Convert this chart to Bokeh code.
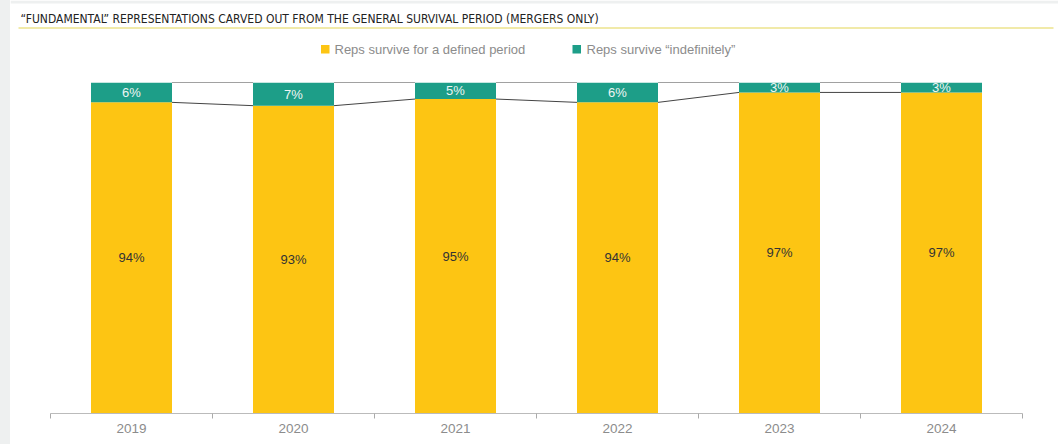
from bokeh.plotting import figure
from bokeh.models import Range1d, FixedTicker, Spacer, ColumnDataSource
from bokeh.layouts import row, column
from bokeh.core.properties import value
from bokeh.embed import file_html
from bokeh.resources import INLINE

years = ["2019", "2020", "2021", "2022", "2023", "2024"]
defined = [94, 93, 95, 94, 97, 97]
indefinite = [6, 7, 5, 6, 3, 3]
series_names = ["Reps survive for a defined period", "Reps survive \u201cindefinitely\u201d"]
title_text = "\u201cFUNDAMENTAL\u201d REPRESENTATIONS CARVED OUT FROM THE GENERAL SURVIVAL PERIOD (MERGERS ONLY)"

YEL = "#FDC513"
TEAL = "#1D9E88"
GREY_TXT = "#8c8c8c"
COND = "DejaVu Sans Condensed"

W = 1048

# ---------- header ----------
h = figure(width=W, height=78, x_range=Range1d(0, W), y_range=Range1d(78, 0),
           x_axis_location=None, y_axis_location=None,
           output_backend="svg", toolbar_location=None, min_border=0)
h.frame_align = False
h.grid.visible = False
h.outline_line_color = None
h.background_fill_color = "white"
h.border_fill_color = "white"
h.quad(left=[0], right=[W], top=[0], bottom=[3], fill_color="#eef0f0", line_color=None)
h.text(x=[10], y=[18], text=[title_text], text_font=value(COND), text_font_size="12px",
       text_color="#222222", text_baseline="middle", text_align="left")
h.segment(x0=[8], y0=[27.5], x1=[1043], y1=[27.5], line_color="#EDE38C", line_width=1.5)
h.quad(left=[310.5, 562], right=[319, 570.5], top=[44.5, 44.5], bottom=[53, 53],
       fill_color=[YEL, TEAL], line_color=None)
h.text(x=[324, 576], y=[49, 49], text=series_names, text_font=value("Liberation Sans"),
       text_font_size="13px", text_color=GREY_TXT, text_baseline="middle", text_align="left")

# ---------- main chart ----------
n = len(years)
xc = [i + 0.5 for i in range(n)]
d_frac = [v / 100 for v in defined]
tot_frac = [(a + b) / 100 for a, b in zip(defined, indefinite)]

src = ColumnDataSource(dict(x=xc, d=d_frac, t=tot_frac,
                            dlab=[f"{v}%" for v in defined],
                            ilab=[f"{v}%" for v in indefinite],
                            dmid=[v / 2 for v in d_frac],
                            imid=[(a + b) / 2 for a, b in zip(d_frac, tot_frac)]))

p = figure(width=W, height=366, x_range=Range1d(0, n), y_range=Range1d(0, 1),
           y_axis_location=None,
           output_backend="svg", toolbar_location=None,
           min_border_left=40, min_border_right=36, min_border_top=4, min_border_bottom=31)
p.frame_align = False
p.grid.visible = False
p.outline_line_color = None
p.background_fill_color = "white"
p.border_fill_color = "white"

p.vbar(x="x", width=0.5, bottom=0, top="d", source=src, fill_color=YEL, line_color=None)
p.vbar(x="x", width=0.5, bottom="d", top="t", source=src, fill_color=TEAL, line_color=None)

# series lines between adjacent bars
sx0 = [i + 0.75 for i in range(n - 1)]
sx1 = [i + 1.25 for i in range(n - 1)]
p.segment(x0=sx0, y0=d_frac[:-1], x1=sx1, y1=d_frac[1:], line_color="#444444", line_width=1)
p.segment(x0=sx0, y0=tot_frac[:-1], x1=sx1, y1=tot_frac[1:], line_color="#444444", line_width=1)

p.text(x="x", y="dmid", text="dlab", source=src, text_font=value("Liberation Sans"),
       text_font_size="13px", text_color="#333333", text_align="center", text_baseline="middle")
p.text(x="x", y="imid", text="ilab", source=src, text_font=value("Liberation Sans"),
       text_font_size="13px", text_color="#eef5f3", text_align="center", text_baseline="middle")

ax = p.xaxis[0]
ax.ticker = FixedTicker(ticks=xc, minor_ticks=list(range(n + 1)))
ax.major_label_overrides = {x: y for x, y in zip(xc, years)}
ax.major_tick_out = 0
ax.major_tick_in = 0
ax.minor_tick_out = 5
ax.minor_tick_in = 0
ax.minor_tick_line_color = "#aaaaaa"
ax.axis_line_color = "#bbbbbb"
ax.major_label_text_font = "Liberation Sans"
ax.major_label_text_font_size = "13.5px"
ax.major_label_text_color = GREY_TXT
ax.major_label_standoff = 5

left = Spacer(width=10, height=444, styles={"background-color": "#eef0f0"})
layout = row(left, column(h, p))

open("out.html", "w").write(file_html(layout, INLINE))
